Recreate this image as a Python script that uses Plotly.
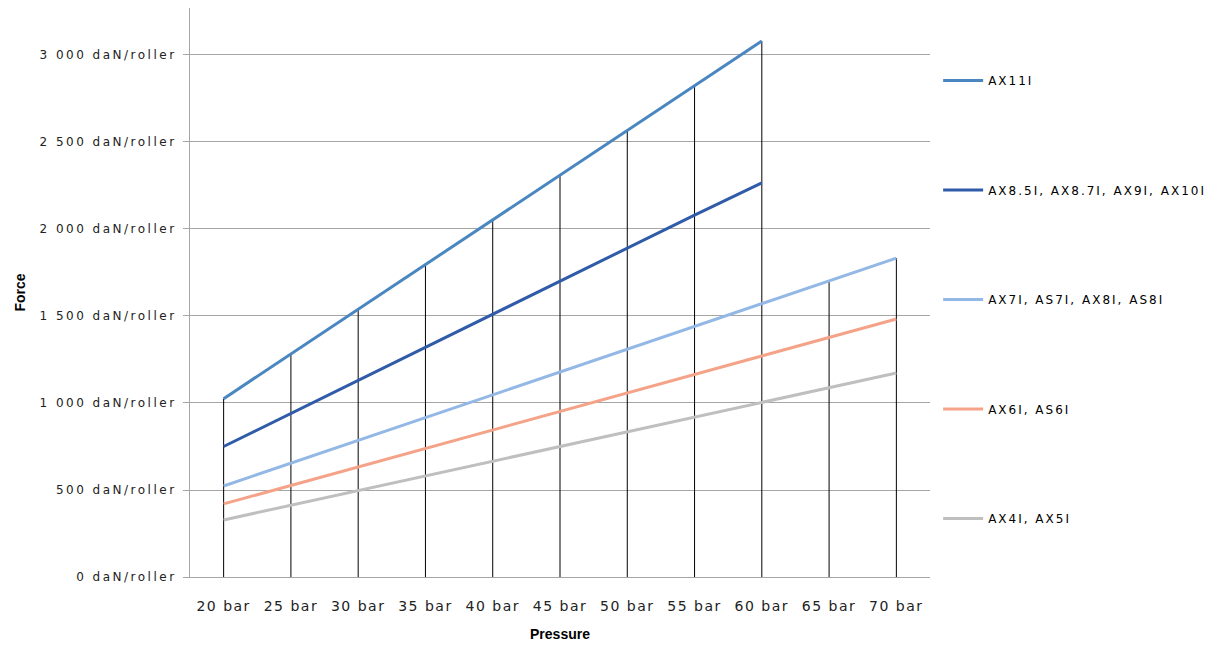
import plotly.graph_objects as go

# Pressure categories (x axis)
pressures = ["20 bar", "25 bar", "30 bar", "35 bar", "40 bar", "45 bar",
             "50 bar", "55 bar", "60 bar", "65 bar", "70 bar"]

# Force per roller (daN/roller)
ax11 = [1025, 1282, 1539, 1796, 2053, 2310, 2567, 2824, 3080]
ax85_10 = [750, 940, 1130, 1320, 1510, 1700, 1890, 2080, 2265]
ax7_8 = [523, 654, 785, 916, 1047, 1178, 1309, 1440, 1571, 1702, 1833]
ax6 = [420, 526, 633, 739, 845, 952, 1058, 1164, 1271, 1377, 1483]
ax4_5 = [328, 412, 497, 581, 666, 750, 834, 919, 1003, 1087, 1172]

series_names = ["AX11I", "AX8.5I, AX8.7I, AX9I, AX10I", "AX7I, AS7I, AX8I, AS8I",
                "AX6I, AS6I", "AX4I, AX5I"]
series_values = [ax11, ax85_10, ax7_8, ax6, ax4_5]

y_tickvals = [0, 500, 1000, 1500, 2000, 2500, 3000]
y_ticktext = ["0 daN/roller", "500 daN/roller", "1 000 daN/roller", "1 500 daN/roller",
              "2 000 daN/roller", "2 500 daN/roller", "3 000 daN/roller"]

COLORS = ['#4a86c0', '#2f5ba9', '#93b8e6', '#f5a388', '#bfbfbf']
FONT = "DejaVu Sans"
TITLE_FONT = "Liberation Sans"

fig = go.Figure()

# Drop lines: from the highest series value at each category down to zero
drop_x, drop_y = [], []
for i, cat in enumerate(pressures):
    top = max(vals[i] for vals in series_values if i < len(vals))
    drop_x += [cat, cat, None]
    drop_y += [0, top, None]

fig.add_trace(go.Scatter(
    x=drop_x, y=drop_y, mode='lines',
    line=dict(color='black', width=1),
    showlegend=False, hoverinfo='skip'
))

for i, (name, vals) in enumerate(zip(series_names, series_values)):
    fig.add_trace(go.Scatter(
        x=pressures[:len(vals)], y=vals, name=name, mode='lines',
        line=dict(color=COLORS[i], width=3),
        legendgroup=str(i)
    ))

fig.update_layout(
    width=1218, height=645,
    margin=dict(l=182, r=296, t=0, b=76),
    plot_bgcolor='white', paper_bgcolor='white',
    font=dict(family=FONT, size=12, color='#222222'),
    legend=dict(
        x=1.011, xanchor='left', y=0.898, yanchor='top',
        tracegroupgap=90.5,
        font=dict(family=FONT, size=12, color='black'),
        itemwidth=40
    )
)

fig.update_xaxes(
    type='category', categoryorder='array', categoryarray=pressures,
    range=[-0.5, len(pressures) - 0.5],
    showline=True, linecolor='#a6a6a6', linewidth=1,
    showgrid=False, ticks='', ticklabelstandoff=16,
    tickfont=dict(family=FONT, size=14, color='#222222'),
    title=dict(text="<b>Pressure</b>", font=dict(family=TITLE_FONT, size=14, color='black'),
               standoff=16)
)

fig.update_yaxes(
    range=[0, 3270], tickvals=y_tickvals, ticktext=y_ticktext,
    showline=True, linecolor='#a6a6a6', linewidth=1,
    showgrid=True, gridcolor='#a6a6a6', gridwidth=1,
    ticks='outside', ticklen=6, tickcolor='#a6a6a6', ticklabelstandoff=4,
    zeroline=False,
    tickfont=dict(family=FONT, size=12, color='#222222'),
    title=dict(text="<b>Force</b>", font=dict(family=TITLE_FONT, size=14, color='black'),
               standoff=50)
)

# Excel renders its labels with wide letter spacing; let the wider legend text show
spacing_js = """
var gd = document.getElementById('{plot_id}');
function spaceLabels() {
  gd.querySelectorAll('.ytick text').forEach(function (t) { t.style.letterSpacing = '2.5px'; });
  gd.querySelectorAll('.legendtext').forEach(function (t) { t.style.letterSpacing = '2px'; });
  gd.querySelectorAll('.xtick text').forEach(function (t) { t.style.letterSpacing = '1.5px'; });
  gd.querySelectorAll('.legend .scrollbox').forEach(function (s) { s.removeAttribute('clip-path'); });
}
spaceLabels();
gd.on('plotly_afterplot', spaceLabels);
"""

fig.write_html("out.html", post_script=spacing_js)
